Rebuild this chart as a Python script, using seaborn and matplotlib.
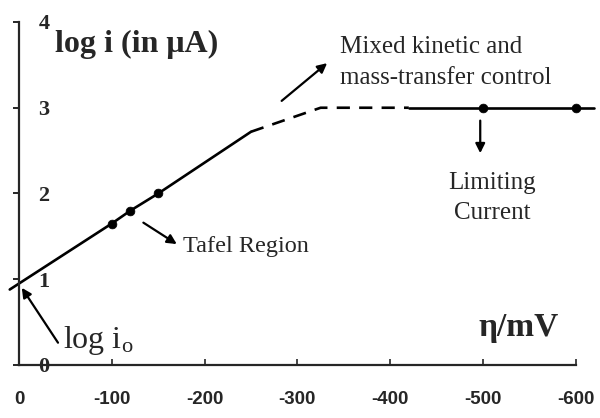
import matplotlib
matplotlib.use("Agg")
import matplotlib.pyplot as plt
import seaborn as sns

# ---- data ----
tafel_x = [10, -100, -120, -150, -250]
tafel_y = [0.88, 1.65, 1.80, 2.00, 2.72]
mixed_x = [-250, -325, -420]
mixed_y = [2.72, 3.00, 3.00]
limit_x = [-420, -500, -600, -620]
limit_y = [3.00, 3.00, 3.00, 3.00]
pts_x = [-100, -120, -150, -500, -600]
pts_y = [1.65, 1.80, 2.00, 3.00, 3.00]
xticks = [0, -100, -200, -300, -400, -500, -600]
yticks = [0, 1, 2, 3, 4]

sns.set_style("ticks")
plt.rcParams["font.family"] = ["Liberation Serif", "DejaVu Serif"]
plt.rcParams["mathtext.fontset"] = "custom"
plt.rcParams["mathtext.rm"] = "Liberation Serif"
plt.rcParams["mathtext.it"] = "Liberation Serif:italic"

fig = plt.figure(figsize=(6, 4.18), dpi=100)
ax = fig.add_axes([0.0317, 0.1268, 0.928, 0.8206])

lw = 1.9
sns.lineplot(x=tafel_x, y=tafel_y, color="black", lw=lw, ax=ax, clip_on=False, sort=False)
sns.lineplot(x=mixed_x, y=mixed_y, color="black", lw=lw, ax=ax, clip_on=False, sort=False,
             linestyle=(0, (5, 3.5)))
sns.lineplot(x=limit_x, y=limit_y, color="black", lw=lw, ax=ax, clip_on=False, sort=False)
sns.scatterplot(x=pts_x, y=pts_y, color="black", s=40, ax=ax, clip_on=False, zorder=5,
                edgecolor="black")

ax.set_xlim(0, -600)
ax.set_ylim(0, 4)
sns.despine(ax=ax)
for sp in ["left", "bottom"]:
    ax.spines[sp].set_linewidth(1.6)

ax.set_xticks(xticks)
ax.set_xticklabels([str(v) for v in xticks], family="Liberation Sans",
                   fontweight="bold", fontsize=13.5)
ax.tick_params(axis="x", direction="in", length=4, width=1.2, pad=19)

ax.set_yticks(yticks)
ax.set_yticklabels([str(v) for v in yticks], fontweight="bold", fontsize=16, ha="left")
ax.tick_params(axis="y", direction="out", length=4, width=1.4, pad=-18)

ax.set_xlabel("")
ax.set_ylabel("")

# ---- annotations ----
ax.text(-39, 3.74, "log i (in μA)", fontsize=23, fontweight="bold", va="center", ha="left")
ax.text(-495, 0.44, "η/mV", fontsize=24, fontweight="bold", va="center", ha="left")
ax.text(-346, 3.53, "Mixed kinetic and\nmass-transfer control", fontsize=18,
        va="center", ha="left", linespacing=1.5)
ax.text(-510, 1.95, "Limiting\nCurrent", fontsize=18, va="center", ha="center",
        linespacing=1.5)
ax.text(-177, 1.38, "Tafel Region", fontsize=17.5, va="center", ha="left")
ax.text(-47, 0.29, r"log i$_\mathrm{o}$", fontsize=23, va="center", ha="left")

arrow = dict(arrowstyle="-|>", color="black", lw=1.6, mutation_scale=14, shrinkA=0, shrinkB=0)
ax.annotate("", xy=(-332, 3.52), xytext=(-283, 3.08), arrowprops=arrow, annotation_clip=False)
ax.annotate("", xy=(-497, 2.47), xytext=(-497, 2.85), arrowprops=arrow, annotation_clip=False)
ax.annotate("", xy=(-170, 1.41), xytext=(-134, 1.66), arrowprops=arrow, annotation_clip=False)
ax.annotate("", xy=(-3, 0.9), xytext=(-42, 0.26), arrowprops=arrow, annotation_clip=False)

fig.savefig("out.png", dpi=100)
